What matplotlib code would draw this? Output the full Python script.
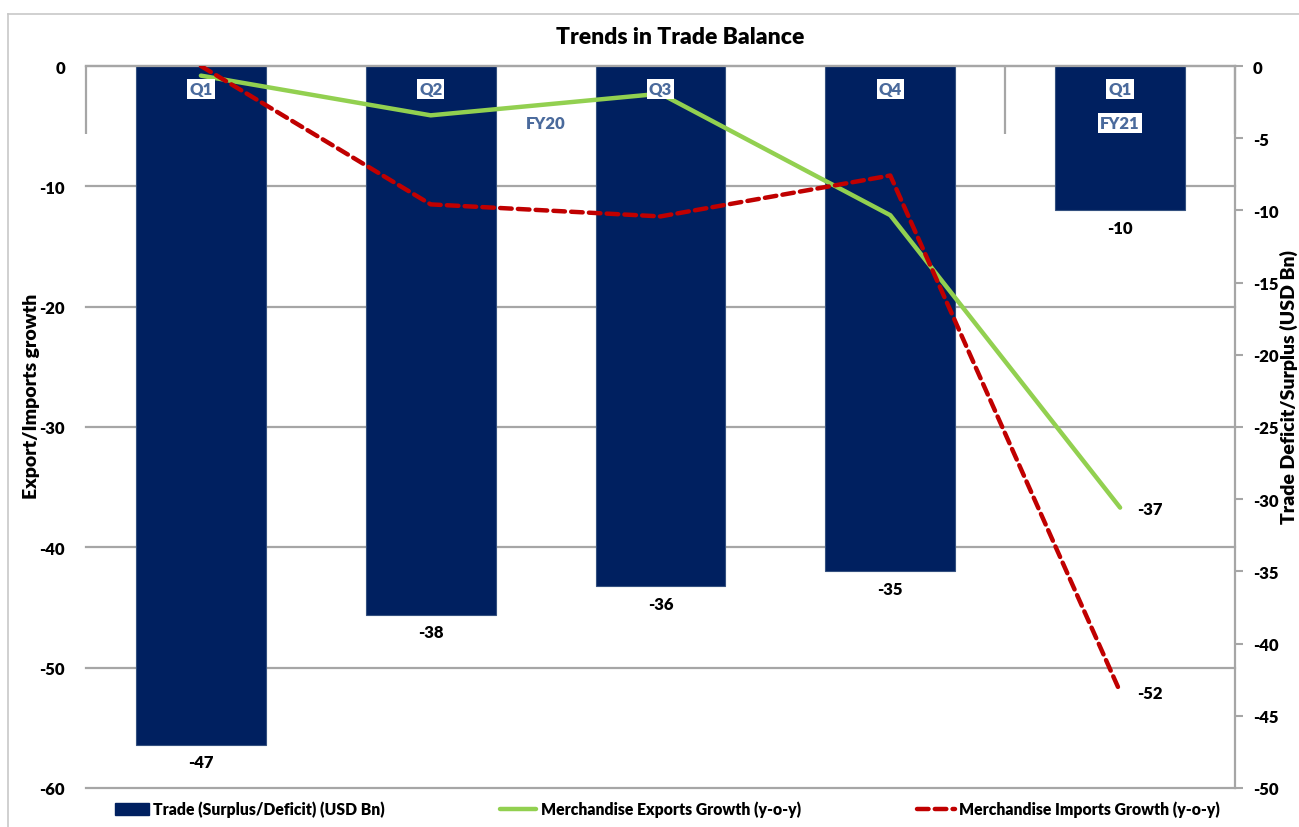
import matplotlib
matplotlib.use('Agg')
import matplotlib.pyplot as plt
from matplotlib.lines import Line2D
from matplotlib.patches import Patch
import numpy as np

# ---- data ----
quarters = ['Q1', 'Q2', 'Q3', 'Q4', 'Q1']
fiscal_years = ['FY20', 'FY21']
fy_quarter_counts = [4, 1]
trade_balance = [-47, -38, -36, -35, -10]          # USD Bn (right axis)
exports_growth = [-0.8, -4.1, -2.3, -12.4, -36.7]  # % y-o-y (left axis)
imports_growth = [0.0, -11.5, -12.5, -9.1, -52.0]  # % y-o-y (left axis)
left_ticks = [0, -10, -20, -30, -40, -50, -60]
right_ticks = [0, -5, -10, -15, -20, -25, -30, -35, -40, -45, -50]

NAVY = '#002060'
GREEN = '#92D050'
RED = '#C00000'
GRID = '#A6A6A6'
LBL = '#4A6A9C'

plt.rcParams['font.family'] = ['Lato', 'DejaVu Sans']
plt.rcParams['font.weight'] = 'heavy'
plt.rcParams['axes.labelweight'] = 'heavy'
FS = 12
LFS = 11.3

W, H = 1299, 828
fig = plt.figure(figsize=(W / 100, H / 100), dpi=100)
fig.patch.set_facecolor('white')

# outer chart border (left and top visible)
fig.add_artist(Line2D([8 / W, 8 / W], [0, 1 - 15 / H], transform=fig.transFigure, color='#C8C8C8', lw=1.2))
fig.add_artist(Line2D([8 / W, 1], [1 - 15 / H, 1 - 15 / H], transform=fig.transFigure, color='#C8C8C8', lw=1.2))

L, R, T, B = 86, 1235, 67, 789
ax = fig.add_axes([L / W, 1 - B / H, (R - L) / W, (B - T) / H])
ax2 = ax.twinx()
ax.set_zorder(ax2.get_zorder() + 1)
ax.patch.set_visible(False)

x = np.arange(len(quarters))

# bars on right axis
bars = ax2.bar(x, trade_balance, width=0.565, color=NAVY, edgecolor='#34507F', linewidth=0.8, zorder=2)
ax2.set_ylim(-50, 0)
ax.set_ylim(-60, 0)
ax.set_xlim(-0.5, len(quarters) - 0.5)

# gridlines (left-axis ticks) drawn behind bars
for v in left_ticks:
    ax2.add_line(Line2D([0, 1], [v, v], transform=ax.get_yaxis_transform(),
                        color=GRID, lw=1.6, zorder=1, clip_on=False))

# lines on left axis
ax.plot(x, exports_growth, color=GREEN, lw=3.2, zorder=4, solid_capstyle='round')
ax.plot(x, imports_growth, color=RED, lw=3.2, zorder=4, linestyle=(0, (2.6, 1.4)), dash_capstyle='round')

# spines
for s in ['left', 'right', 'bottom']:
    ax.spines[s].set_visible(False)
ax.spines['top'].set_color(GRID)
ax.spines['top'].set_linewidth(1.6)
for s in ['left', 'top', 'bottom']:
    ax2.spines[s].set_visible(False)
ax2.spines['right'].set_color(GRID)
ax2.spines['right'].set_linewidth(1.6)

ax.set_xticks([])
ax.set_yticks(left_ticks)
ax.set_yticklabels([str(v) for v in left_ticks])
ax.tick_params(axis='y', length=0, pad=15, labelsize=FS)
ax2.set_yticks(right_ticks)
ax2.set_yticklabels([str(v) for v in right_ticks])
ax2.tick_params(axis='y', length=6, width=1.5, color=GRID, pad=7, direction='out', labelsize=FS)

# group separators (multi-level category axis at top)
bounds = np.cumsum([0] + fy_quarter_counts) - 0.5
ax.vlines(bounds, -5.65, 0, color=GRID, lw=1.6, zorder=3, clip_on=False)

# category labels
xt = ax.get_xaxis_transform()
for xi, q in zip(x, quarters):
    ax.text(xi, 1 - 23 / 722, q, transform=xt, ha='center', va='center', color=LBL,
            fontsize=FS, zorder=10, bbox=dict(fc='white', ec='none', pad=1.5))
for i, fy in enumerate(fiscal_years):
    cx = (bounds[i] + bounds[i + 1]) / 2
    ax.text(cx, 1 - 57 / 722, fy, transform=xt, ha='center', va='center', color=LBL,
            fontsize=FS, zorder=10, bbox=dict(fc='white', ec='none', pad=1.5))

# data labels
ax2.bar_label(bars, labels=[str(v) for v in trade_balance], padding=7, fontsize=FS, color='black')
for series in (exports_growth, imports_growth):
    ax.annotate(str(int(round(series[-1]))), (x[-1], series[-1]), xytext=(12, -1),
                textcoords='offset points', va='center', ha='left', fontsize=FS, color='black')

# axis titles
ax.set_ylabel('Export/Imports growth', fontsize=14)
ax.yaxis.set_label_coords((40 - L) / (R - L), 1 - (396 - T) / (B - T))
ax2.set_ylabel('Trade Deficit/Surplus (USD Bn)', fontsize=14)
ax2.yaxis.set_label_coords((1280 - L) / (R - L), 1 - (387 - T) / (B - T))

# title
fig.text(680 / W, 1 - 37 / H, 'Trends in Trade Balance', ha='center', va='center', fontsize=16.5)

# legends
ly = 1 - 810 / H
common = dict(loc='center left', frameon=False, borderpad=0, borderaxespad=0,
              fontsize=LFS, handletextpad=0.3)
fig.legend(handles=[Patch(facecolor=NAVY, edgecolor=NAVY)], labels=['Trade (Surplus/Deficit) (USD Bn)'],
           bbox_to_anchor=(115 / W, ly), handlelength=2.15, handleheight=0.8, **common)
fig.legend(handles=[Line2D([], [], color=GREEN, lw=3.2, solid_capstyle='round')],
           labels=['Merchandise Exports Growth (y-o-y)'],
           bbox_to_anchor=(500 / W, ly), handlelength=2.3, **common)
fig.legend(handles=[Line2D([], [], color=RED, lw=3.2, linestyle=(0, (2.6, 1.4)), dash_capstyle='round')],
           labels=['Merchandise Imports Growth (y-o-y)'],
           bbox_to_anchor=(917 / W, ly), handlelength=2.4, **common)

fig.savefig('out.png', dpi=100)
